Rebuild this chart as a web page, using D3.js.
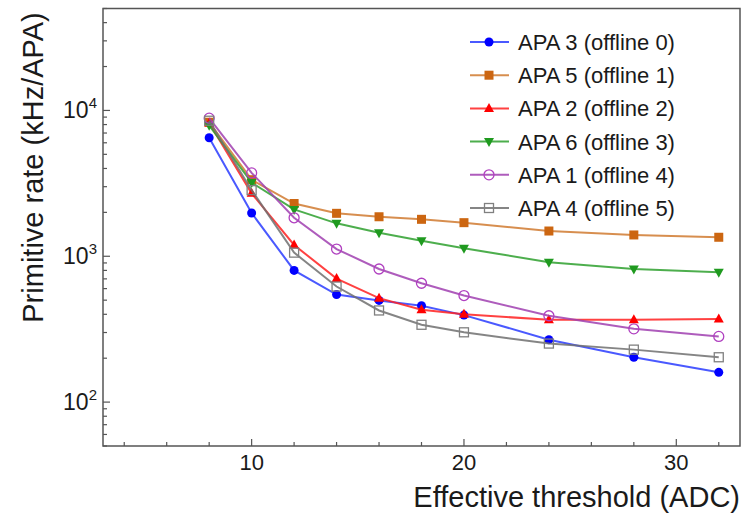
<!DOCTYPE html>
<html>
<head>
<meta charset="utf-8">
<script src="https://cdn.jsdelivr.net/npm/d3@7"></script>
<style>
  body { margin: 0; background: #fff; }
  svg { display: block; font-family: "Liberation Sans", Arial, Helvetica, sans-serif; }
</style>
</head>
<body>
<svg id="chart" width="748" height="514"></svg>
<script>
const thresholds = [8, 10, 12, 14, 16, 18, 20, 24, 28, 32];
const apa3 = [6500, 1980, 800, 546, 498, 458, 395, 268, 203, 160];
const apa5 = [8300, 3350, 2300, 1970, 1866, 1792, 1700, 1490, 1400, 1350];
const apa2 = [8200, 2700, 1195, 703, 516, 430, 400, 367, 367, 371];
const apa6 = [7900, 3200, 2095, 1682, 1449, 1278, 1135, 910, 818, 778];
const apa1 = [8850, 3730, 1836, 1121, 818, 653, 538, 391, 318, 282];
const apa4 = [8500, 2840, 1059, 620, 425, 339, 301, 252, 229, 203];
const seriesNames = ["APA 3 (offline 0)", "APA 5 (offline 1)", "APA 2 (offline 2)", "APA 6 (offline 3)", "APA 1 (offline 4)", "APA 4 (offline 5)"];
const xTickValues = [10, 20, 30];
const yTickValues = [100, 1000, 10000];

const series = [
  { name: seriesNames[0], values: apa3, color: "#0000ff", line: "#2a3cff", marker: "circleFilled" },
  { name: seriesNames[1], values: apa5, color: "#cc6611", line: "#d07a30", marker: "squareFilled" },
  { name: seriesNames[2], values: apa2, color: "#ff0000", line: "#ff2020", marker: "triUp" },
  { name: seriesNames[3], values: apa6, color: "#1f9a1f", line: "#2ea02e", marker: "triDown" },
  { name: seriesNames[4], values: apa1, color: "#b040c0", line: "#a040b0", marker: "circleOpen" },
  { name: seriesNames[5], values: apa4, color: "#808080", line: "#707070", marker: "squareOpen" }
];

const svg = d3.select("#chart");
const L = 103, R = 740, T = 8.5, B = 446;
const x = d3.scaleLinear().domain([3, 33]).range([L, R]);
const y = d3.scaleLog().domain([50, 50000]).range([B, T]);

const axisColor = "#555";
const textColor = "#1a1a1a";
const xMinor = d3.range(4, 33, 2);
const gx = svg.append("g");
gx.selectAll("line").data(xMinor).join("line")
  .attr("x1", d => x(d)).attr("x2", d => x(d))
  .attr("y1", B).attr("y2", d => (d % 10 === 0) ? B - 7 : B - 4)
  .attr("stroke", axisColor).attr("stroke-width", 1.2);
gx.selectAll("text").data(xTickValues).join("text")
  .attr("x", d => x(d)).attr("y", 470)
  .attr("text-anchor", "middle").attr("font-size", 22).attr("fill", textColor)
  .text(d => d);

const yMinor = [];
[10, 100, 1000, 10000].forEach(dec => { for (let k = 1; k <= 9; k++) { const v = dec * k; if (v >= 50 && v <= 50000) yMinor.push(v); } });
const gy = svg.append("g");
gy.selectAll("line").data(yMinor).join("line")
  .attr("x1", L).attr("x2", d => yTickValues.includes(d) ? L + 7 : L + 4)
  .attr("y1", d => y(d)).attr("y2", d => y(d))
  .attr("stroke", axisColor).attr("stroke-width", 1.2);
const yl = gy.selectAll("text").data(yTickValues).join("text")
  .attr("x", 97).attr("y", d => y(d) + 7.5)
  .attr("text-anchor", "end").attr("font-size", 23).attr("fill", textColor);
yl.append("tspan").text("10");
yl.append("tspan").attr("dy", -10).attr("font-size", 15).text(d => Math.round(Math.log10(d)));

svg.append("rect").attr("x", L).attr("y", T).attr("width", R - L).attr("height", B - T)
  .attr("fill", "none").attr("stroke", axisColor).attr("stroke-width", 1.5);

svg.append("text").attr("x", R).attr("y", 507).attr("text-anchor", "end")
  .attr("font-size", 29).attr("fill", textColor).text("Effective threshold (ADC)");
svg.append("text").attr("transform", "translate(43,167.5) rotate(-90)")
  .attr("text-anchor", "middle").attr("font-size", 29).attr("fill", textColor)
  .text("Primitive rate (kHz/APA)");

function drawMarker(g, type, color) {
  if (type === "circleFilled") g.append("circle").attr("r", 4.5).attr("fill", color);
  else if (type === "circleOpen") g.append("circle").attr("r", 5).attr("fill", "none").attr("stroke", color).attr("stroke-width", 1.3);
  else if (type === "squareFilled") g.append("rect").attr("x", -4.5).attr("y", -4.5).attr("width", 9).attr("height", 9).attr("fill", color);
  else if (type === "squareOpen") g.append("rect").attr("x", -4.5).attr("y", -4.5).attr("width", 9).attr("height", 9).attr("fill", "none").attr("stroke", color).attr("stroke-width", 1.3);
  else if (type === "triUp") g.append("path").attr("d", "M0,-5.5L5,3.5L-5,3.5Z").attr("fill", color);
  else if (type === "triDown") g.append("path").attr("d", "M0,5.5L5,-3.5L-5,-3.5Z").attr("fill", color);
}

const line = d3.line().x((d, i) => x(thresholds[i])).y(d => y(d));
series.forEach(s => {
  const g = svg.append("g");
  g.append("path").attr("d", line(s.values)).attr("fill", "none")
    .attr("stroke", s.line).attr("stroke-width", 2).attr("stroke-opacity", 0.85);
  s.values.forEach((v, i) => {
    const m = g.append("g").attr("transform", `translate(${x(thresholds[i])},${y(v)})`);
    drawMarker(m, s.marker, s.color);
  });
});

const lg = svg.append("g");
series.forEach((s, i) => {
  const yy = 42 + i * 33.2;
  lg.append("line").attr("x1", 470).attr("x2", 509).attr("y1", yy).attr("y2", yy)
    .attr("stroke", s.line).attr("stroke-width", 2).attr("stroke-opacity", 0.85);
  const m = lg.append("g").attr("transform", `translate(489,${yy})`);
  drawMarker(m, s.marker, s.color);
  lg.append("text").attr("x", 518).attr("y", yy + 8).attr("font-size", 22).attr("fill", textColor).text(s.name);
});
</script>
</body>
</html>
